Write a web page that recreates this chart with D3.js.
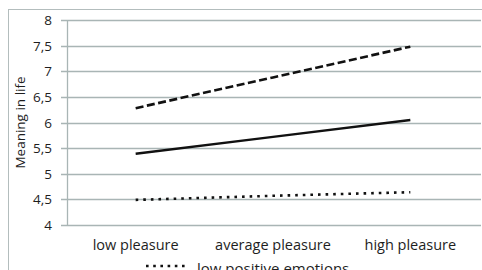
<!DOCTYPE html>
<html lang="en">
<head>
<meta charset="utf-8">
<script src="https://cdn.jsdelivr.net/npm/d3@7"></script>
<style>
  body { margin: 0; background: #fff; }
  text { font-family: "Open Sans", sans-serif; fill: #1e1e1e; }
</style>
</head>
<body>
<script>
  // data
  let categories = ["low pleasure", "average pleasure", "high pleasure"];
  let highPE = [6.28, 6.88, 7.48];
  let avgPE = [5.39, 5.72, 6.05];
  let lowPE = [4.49, 4.57, 4.64];
  let yTicks = [4, 4.5, 5, 5.5, 6, 6.5, 7, 7.5, 8];

  let w = 482, h = 270;
  let margin = {left: 67, right: 3, top: 20, bottom: 45};

  let svg = d3.select("body").append("svg")
    .attr("width", w).attr("height", h);

  // chart frame
  svg.append("rect")
    .attr("x", 8.5).attr("y", 9.5)
    .attr("width", w + 20).attr("height", h + 20)
    .attr("fill", "none").attr("stroke", "#b3bdbd");

  let x = d3.scaleBand().domain(categories)
    .range([margin.left, w - margin.right]);
  let y = d3.scaleLinear().domain([4, 8])
    .range([h - margin.bottom, margin.top]);

  // gridlines
  svg.append("g").selectAll("line").data(yTicks).enter().append("line")
    .attr("x1", margin.left - 6).attr("x2", w - margin.right + 2)
    .attr("y1", d => Math.round(y(d)) + 0.5).attr("y2", d => Math.round(y(d)) + 0.5)
    .attr("stroke", "#a9b5b5").attr("stroke-width", 1.3);

  // y axis line
  svg.append("line")
    .attr("x1", margin.left + 0.5).attr("x2", margin.left + 0.5)
    .attr("y1", y(8)).attr("y2", y(4) + 0.5)
    .attr("stroke", "#a9b5b5").attr("stroke-width", 1.3);

  // y tick labels
  svg.append("g").selectAll("text").data(yTicks).enter().append("text")
    .attr("x", 52).attr("y", d => y(d) + 5)
    .attr("text-anchor", "end")
    .attr("font-size", 13.5)
    .text(d => String(d).replace(".", ","));

  // x labels
  svg.append("g").selectAll("text").data(categories).enter().append("text")
    .attr("x", d => x(d) + x.bandwidth() / 2)
    .attr("y", 250)
    .attr("text-anchor", "middle")
    .attr("font-size", 14.5)
    .text(d => d);

  // y axis title
  svg.append("text")
    .attr("transform", "translate(25," + ((y(4) + y(8)) / 2) + ") rotate(-90)")
    .attr("text-anchor", "middle")
    .attr("font-size", 13.5)
    .text("Meaning in life");

  let line = d3.line()
    .x((d, i) => x(categories[i]) + x.bandwidth() / 2)
    .y(d => y(d));

  svg.append("path").datum(highPE).attr("d", line)
    .attr("fill", "none").attr("stroke", "#111").attr("stroke-width", 2.6)
    .attr("stroke-dasharray", "8,3.5");

  svg.append("path").datum(avgPE).attr("d", line)
    .attr("fill", "none").attr("stroke", "#111").attr("stroke-width", 2.4);

  svg.append("path").datum(lowPE).attr("d", line)
    .attr("fill", "none").attr("stroke", "#111").attr("stroke-width", 2.6)
    .attr("stroke-dasharray", "2.6,5");

  // legend (visible entry)
  svg.append("line")
    .attr("x1", 146).attr("x2", 188).attr("y1", 266).attr("y2", 266)
    .attr("stroke", "#111").attr("stroke-width", 2.6)
    .attr("stroke-dasharray", "2.6,4.6");
  svg.append("text")
    .attr("x", 197).attr("y", 274)
    .attr("font-size", 15)
    .text("low positive emotions");
</script>
</body>
</html>
